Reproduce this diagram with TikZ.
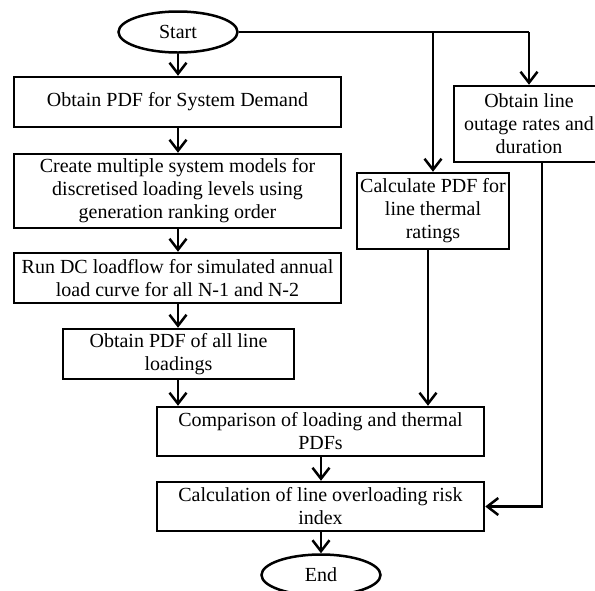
\documentclass[tikz,border=0pt]{standalone}
\usepackage{fontspec}
\setmainfont{Liberation Serif}
\usetikzlibrary{arrows.meta,shapes.geometric}
\begin{document}
\begin{tikzpicture}[x=1pt,y=-1pt,
  every node/.style={font=\fontsize{20}{23}\selectfont, inner sep=0pt, align=center},
  box/.style={draw, line width=2.5pt, rectangle},
  term/.style={draw, line width=2.5pt, ellipse, minimum width=119pt, minimum height=41pt},
  conn/.style={line width=2.5pt},
  arr/.style={line width=2.5pt, -{Straight Barb[length=11pt,width=17pt,line width=2.5pt]}}
]
\useasboundingbox (0,0) rectangle (595,590);
\clip (0,0) rectangle (595,590);

\node[term] (start) at (178,32) {Start};
\node[box, minimum width=327pt, minimum height=50pt] (b1) at (177.5,102) {Obtain PDF for System Demand};
\node[box, minimum width=327pt, minimum height=74pt] (b2) at (177.5,191) {Create multiple system models for\\discretised loading levels using\\generation ranking order};
\node[box, minimum width=327pt, minimum height=50pt] (b3) at (177.5,278) {Run DC loadflow for simulated annual\\load curve for all N-1 and N-2};
\node[box, minimum width=231pt, minimum height=50pt] (b4) at (178.5,354) {Obtain PDF of all line\\loadings};
\node[box, minimum width=327pt, minimum height=49pt] (b5) at (320.5,431.5) {Comparison of loading and thermal\\PDFs};
\node[box, minimum width=327pt, minimum height=49pt] (b6) at (320.5,506.5) {Calculation of line overloading risk\\index};
\node[term] (end) at (321,575) {End};
\node[box, minimum width=152pt, minimum height=76pt] (calc) at (433,211) {Calculate PDF for\\line thermal\\ratings};
\node[box, minimum width=150pt, minimum height=76pt] (out) at (529,124) {Obtain line\\outage rates and\\duration};

\coordinate (j1) at (433,32);
\coordinate (j2) at (529,32);

\draw[conn] (start.east) -- (j2);
\draw[arr] (j2) -- (out.north);
\draw[arr] (j1) -- (calc.north);
\draw[arr] (start.south) -- (b1.north -| start.south);
\draw[arr] (b1.south -| start.south) -- (b2.north -| start.south);
\draw[arr] (b2.south -| start.south) -- (b3.north -| start.south);
\draw[arr] (b3.south -| start.south) -- (b4.north -| start.south);
\draw[arr] (b4.south -| start.south) -- (b5.north -| start.south);
\draw[arr] ([xshift=-5pt]calc.south) -- ([xshift=-5pt]calc.south |- b5.north);
\draw[arr] (b5.south -| end.north) -- (b6.north -| end.north);
\draw[arr] (b6.south -| end.north) -- (end.north);
\draw[arr] ([xshift=13pt]out.south) |- (b6.east);
\end{tikzpicture}
\end{document}
